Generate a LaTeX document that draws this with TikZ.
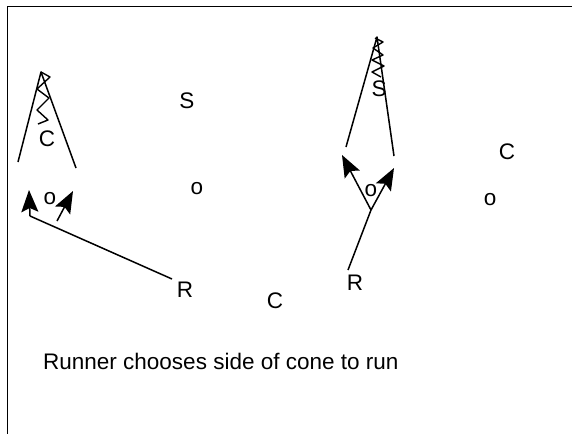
\documentclass[tikz,border=0pt]{standalone}
\usepackage{fontspec}
\setmainfont{Liberation Sans}
\usetikzlibrary{arrows.meta}
\begin{document}
\begin{tikzpicture}[x=1pt,y=-1pt,
  lbl/.style={inner sep=0pt,font=\fontsize{22.5}{26}\selectfont},
  ln/.style={line width=1.5pt,line join=round},
  zz/.style={line width=1.4pt,line join=round},
  arr/.style={ln,-{Stealth[length=22pt,width=17pt,inset=4pt]}}]
\useasboundingbox (0,0) rectangle (572,434);
% frame
\coordinate (fr1) at (572,6.5);
\coordinate (fr2) at (7.5,6.5);
\coordinate (fr3) at (7.5,434);
\draw[line width=1.6pt] (fr1) -- (fr2) -- (fr3);
% labels
\node[lbl] (S1) at (187,101) {S};
\node[lbl] (C1) at (47,139) {C};
\node[lbl] (o1) at (50,199) {o};
\node[lbl] (o2) at (197,189) {o};
\node[lbl] (R1) at (185,290) {R};
\node[lbl] (C2) at (275,301) {C};
\node[lbl] (R2) at (355,283) {R};
\node[lbl] (o3) at (371,191) {o};
\node[lbl] (S2) at (379,89) {S};
\node[lbl] (C3) at (507,152) {C};
\node[lbl] (o4) at (490,200) {o};
\node[lbl,anchor=base west] (cap) at (43,369) {Runner chooses side of cone to run};
% left cone
\coordinate (a1) at (41,72);
\coordinate (l1) at (18,162);
\coordinate (r1) at (76,168);
\draw[ln] (l1) -- (a1) -- (r1);
\draw[zz] (a1) -- (50,77) -- (37,89) -- (49,98) -- (37,110) -- (48,120) -- (38,124);
% right cone
\coordinate (a2) at (377,37);
\coordinate (l2) at (346,147);
\coordinate (r2) at (394,156);
\draw[ln] (l2) -- (a2) -- (r2);
\draw[zz] (375,38) -- (383,42) -- (373,48) -- (383,55) -- (372,60) -- (384,66) -- (372,72) -- (381,77);
% left arrows
\coordinate (k1) at (30,216);
\coordinate (t1) at (29,190);
\coordinate (b2) at (57,221);
\coordinate (t2) at (73,191);
\coordinate (rs1) at (172,279);
\draw[ln] (rs1) -- (k1);
\draw[arr] (k1) -- (t1);
\draw[arr] (b2) -- (t2);
% right arrows
\coordinate (v) at (371,210);
\coordinate (t3) at (342,155);
\coordinate (t4) at (394,168);
\coordinate (rs2) at (348,270);
\draw[ln] (rs2) -- (v);
\draw[arr] (v) -- (t3);
\draw[arr] (v) -- (t4);
\end{tikzpicture}
\end{document}
